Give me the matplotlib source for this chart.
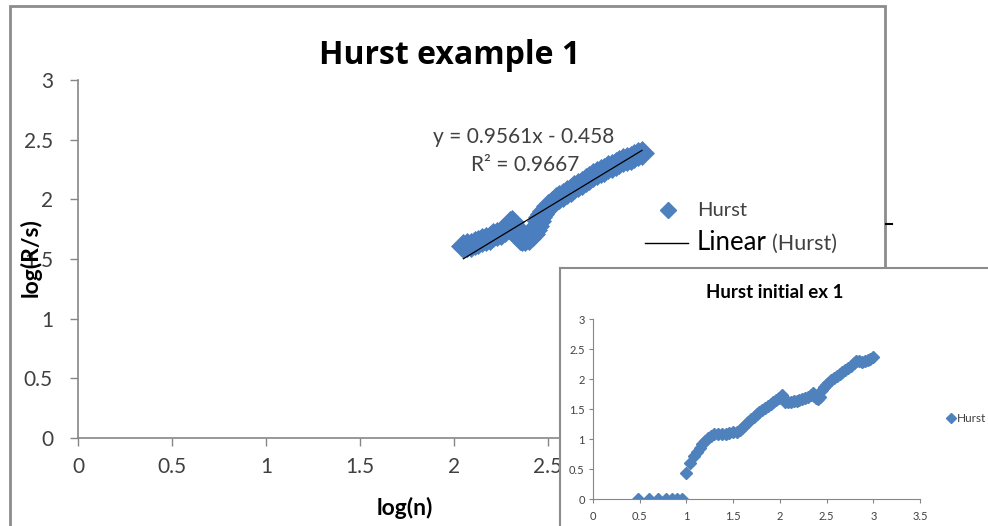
import matplotlib
matplotlib.use("Agg")
import matplotlib.pyplot as plt
from matplotlib.patches import Rectangle
from matplotlib.lines import Line2D
from matplotlib.ticker import FuncFormatter

plt.rcParams['font.family'] = ['Lato', 'DejaVu Sans']

# ---------------- data ----------------
main_x = [2.05, 2.07, 2.09, 2.11, 2.13, 2.15, 2.17, 2.19, 2.21, 2.23, 2.25, 2.27,
          2.29, 2.30, 2.31, 2.32, 2.33, 2.34, 2.35, 2.36, 2.38, 2.40, 2.42, 2.43,
          2.44, 2.45, 2.46, 2.47, 2.48, 2.50, 2.52, 2.54, 2.56, 2.58, 2.60, 2.62,
          2.64, 2.66, 2.68, 2.70, 2.72, 2.74, 2.76, 2.78, 2.80, 2.82, 2.84, 2.86,
          2.88, 2.90, 2.92, 2.94, 2.96, 2.98, 3.00]
main_y = [1.61, 1.62, 1.62, 1.63, 1.64, 1.66, 1.67, 1.68, 1.70, 1.71, 1.72, 1.74,
          1.77, 1.80, 1.81, 1.78, 1.74, 1.70, 1.68, 1.67, 1.67, 1.68, 1.71, 1.74,
          1.78, 1.82, 1.85, 1.88, 1.90, 1.94, 1.97, 2.00, 2.02, 2.04, 2.06, 2.08,
          2.10, 2.12, 2.14, 2.16, 2.18, 2.20, 2.22, 2.24, 2.25, 2.27, 2.28, 2.30,
          2.31, 2.33, 2.34, 2.35, 2.36, 2.38, 2.39]
trend_slope = 0.9561
trend_intercept = -0.458
trend_label = "y = 0.9561x - 0.458"
r2_label = "R² = 0.9667"

inset_x = [0.477, 0.602, 0.699, 0.778, 0.845, 0.903, 0.954,
           1.00, 1.04, 1.08, 1.11, 1.14, 1.17, 1.20, 1.23, 1.26, 1.30, 1.34, 1.38,
           1.42, 1.46, 1.50, 1.54, 1.57, 1.60, 1.63, 1.66, 1.69, 1.72, 1.75, 1.78,
           1.81, 1.84, 1.87, 1.90, 1.93, 1.96, 1.99, 2.02, 2.04, 2.06, 2.09, 2.12,
           2.15, 2.18, 2.21, 2.24, 2.27, 2.30, 2.33, 2.35, 2.37, 2.39, 2.41, 2.43,
           2.45, 2.47, 2.49, 2.52, 2.55, 2.58, 2.61, 2.64, 2.67, 2.70, 2.73, 2.76,
           2.79, 2.82, 2.85, 2.88, 2.91, 2.94, 2.97, 3.00]
inset_y = [0, 0, 0, 0, 0, 0, 0,
           0.44, 0.60, 0.72, 0.78, 0.85, 0.91, 0.96, 1.01, 1.05, 1.09, 1.09, 1.09,
           1.09, 1.10, 1.11, 1.12, 1.15, 1.19, 1.24, 1.29, 1.33, 1.37, 1.41, 1.45,
           1.48, 1.52, 1.55, 1.58, 1.62, 1.65, 1.69, 1.73, 1.67, 1.61, 1.61, 1.62,
           1.63, 1.64, 1.65, 1.66, 1.68, 1.70, 1.73, 1.77, 1.72, 1.68, 1.67, 1.70,
           1.82, 1.87, 1.90, 1.94, 1.98, 2.01, 2.05, 2.09, 2.12, 2.15, 2.18, 2.21,
           2.26, 2.30, 2.30, 2.29, 2.30, 2.32, 2.34, 2.37]

x_ticks = [0, 0.5, 1, 1.5, 2, 2.5, 3, 3.5]
y_ticks = [0, 0.5, 1, 1.5, 2, 2.5, 3]
series_name = "Hurst"
main_title = "Hurst example 1"
inset_title = "Hurst initial ex 1"
x_label = "log(n)"
y_label = "log(R/s)"

# ---------------- styling ----------------
W, H = 988, 526
BLUE = '#4F81BD'
AXC = '#868686'
TXT = '#404040'

def fx(px):
    return px / W

def fy(py):
    return 1 - py / H

fmt = FuncFormatter(lambda v, p: ('%g' % v))

fig = plt.figure(figsize=(W / 100, H / 100), dpi=100)
fig.patch.set_facecolor('white')

# outer border of main chart
fig.add_artist(Rectangle((fx(10), fy(560)), fx(885) - fx(10), fy(6) - fy(560),
                         transform=fig.transFigure, fill=False, ec='#8c8c8c', lw=2, zorder=1))
fig.add_artist(Line2D([fx(886), fx(892)], [fy(224), fy(224)], transform=fig.transFigure,
                      color='black', lw=1.5, zorder=1))

# ---- main axes ----
ax = fig.add_axes([fx(78), fy(438), (736 - 78) / W, (438 - 80) / H], zorder=0)
ax.set_xlim(0, 3.5)
ax.set_ylim(0, 3)
ax.plot(main_x, main_y, linestyle='none', marker='D', ms=12, color='#4A7EBF',
        mec='#4A7EBF', mew=0.5)
tx = [min(main_x), max(main_x)]
ax.plot(tx, [trend_slope * v + trend_intercept for v in tx], color='black', lw=0.9)
for s in ['top', 'right']:
    ax.spines[s].set_visible(False)
for s in ['left', 'bottom']:
    ax.spines[s].set_color(AXC)
    ax.spines[s].set_linewidth(1.2)
ax.set_xticks(x_ticks)
ax.set_yticks(y_ticks)
ax.xaxis.set_major_formatter(fmt)
ax.yaxis.set_major_formatter(fmt)
ax.tick_params(axis='both', direction='out', length=6, width=1, color=AXC,
               labelsize=15, labelcolor=TXT)
ax.tick_params(axis='x', pad=8)
ax.tick_params(axis='y', pad=12)
ax.set_facecolor('none')

fig.text(fx(450), fy(55), main_title, ha='center', va='center', fontsize=23,
         fontweight='bold', color='black', family=['Open Sans', 'DejaVu Sans'])
fig.text(fx(524), fy(137), trend_label, ha='center', va='center', fontsize=15, color=TXT)
fig.text(fx(525), fy(165), r2_label, ha='center', va='center', fontsize=15, color=TXT)
fig.text(fx(31), fy(258), y_label, ha='center', va='center', rotation=90, fontsize=16.5,
         fontweight='bold', color='black')
fig.text(fx(405), fy(508), x_label, ha='center', va='center', fontsize=16.5,
         fontweight='bold', color='black')

# main legend
fig.add_artist(Line2D([fx(668)], [fy(210)], transform=fig.transFigure, marker='D', ms=8,
                      color=BLUE, linestyle='none', zorder=3))
fig.text(fx(697), fy(210), series_name, ha='left', va='center', fontsize=14.5, color=TXT)
fig.add_artist(Line2D([fx(645), fx(688)], [fy(243), fy(243)], transform=fig.transFigure,
                      color='black', lw=1, zorder=3))
fig.text(fx(697), fy(243), "Linear", ha='left', va='center', fontsize=18.5, color='black')
fig.text(fx(772), fy(244), "(%s)" % series_name, ha='left', va='center', fontsize=15.5, color=TXT)

# ---- inset chart ----
bg = fig.add_axes([fx(560), 0, 1 - fx(560), fy(268)], zorder=2)
bg.set_facecolor('white')
bg.set_xticks([])
bg.set_yticks([])
for s in ['bottom', 'right']:
    bg.spines[s].set_visible(False)
for s in ['left', 'top']:
    bg.spines[s].set_color('#8c8c8c')
    bg.spines[s].set_linewidth(1.5)
bg.text((775 - 560) / (988 - 560), 1 - (293 - 268) / (526 - 268), inset_title,
        transform=bg.transAxes, ha='center', va='center', fontsize=13.5,
        fontweight='bold', color='black')

iax = fig.add_axes([fx(593), fy(499), (920 - 593) / W, (499 - 319) / H], zorder=3)
iax.set_facecolor('none')
iax.set_xlim(0, 3.5)
iax.set_ylim(0, 3)
iax.plot(inset_x, inset_y, linestyle='none', marker='D', ms=6, color=BLUE, mec=BLUE)
for s in ['top', 'right']:
    iax.spines[s].set_visible(False)
for s in ['left', 'bottom']:
    iax.spines[s].set_color(AXC)
    iax.spines[s].set_linewidth(0.8)
iax.set_xticks(x_ticks)
iax.set_yticks(y_ticks)
iax.xaxis.set_major_formatter(fmt)
iax.yaxis.set_major_formatter(fmt)
iax.tick_params(axis='both', direction='out', length=3, width=0.8, color=AXC,
                labelsize=8, labelcolor=TXT)
iax.tick_params(axis='x', pad=6)
iax.tick_params(axis='y', pad=3)

fig.add_artist(Line2D([fx(951)], [fy(418)], transform=fig.transFigure, marker='D', ms=5,
                      color=BLUE, linestyle='none', zorder=5))
fig.text(fx(957), fy(418), series_name, ha='left', va='center', fontsize=8.5, color=TXT, zorder=5)

fig.savefig('out.png', dpi=100)
